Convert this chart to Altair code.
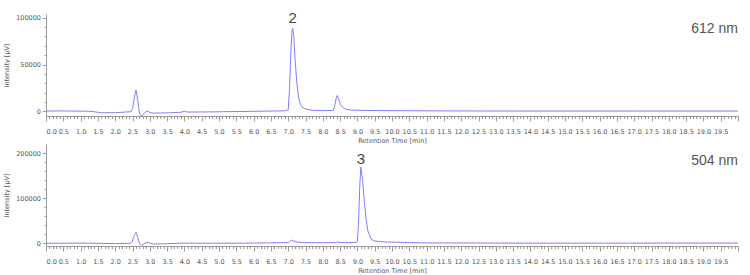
import altair as alt
import pandas as pd

# ---- 612 nm trace (top) ----
top_t = [0.0, 0.5, 1.0, 1.3, 1.6, 2.0, 2.3, 2.45, 2.5, 2.55, 2.6, 2.65, 2.7, 2.75, 2.8,
         2.85, 2.9, 2.95, 3.0, 3.1, 3.3, 3.6, 3.9, 4.0, 4.1, 4.5, 5.0, 6.0, 6.5, 6.9,
         7.0, 7.04, 7.08, 7.11, 7.13, 7.16, 7.2, 7.25, 7.3, 7.35, 7.4, 7.5, 7.7, 8.0,
         8.3, 8.34, 8.38, 8.42, 8.46, 8.5, 8.55, 8.65, 8.8, 9.2, 10.0, 11.0, 12.0, 13.5,
         15.0, 17.0, 20.0]
top_v = [300, 400, 200, 0, -1500, -1500, -700, -500, 3000, 14000, 23000, 12000, -2000, -5000, -4000,
         -1500, 0, 200, -1200, -2000, -1800, -1500, -1000, 0, -800, -700, -500, 0, 300, 500,
         1500, 25000, 65000, 86000, 89000, 80000, 55000, 30000, 15000, 8000, 4500, 2500, 1000, 700,
         900, 4500, 13000, 17000, 12500, 8000, 5000, 2500, 1300, 900, 700, 500, 400, 300,
         300, 300, 300]

# ---- 504 nm trace (bottom) ----
bot_t = [0.0, 1.0, 1.5, 2.0, 2.45, 2.5, 2.55, 2.6, 2.65, 2.7, 2.75, 2.8, 2.9, 2.95, 3.0,
         3.1, 3.5, 4.0, 4.5, 6.0, 7.0, 7.05, 7.1, 7.15, 7.25, 7.4, 8.0, 8.35, 8.42, 8.5,
         8.9, 9.0, 9.03, 9.07, 9.1, 9.15, 9.2, 9.25, 9.3, 9.4, 9.5, 9.8, 10.5, 11.0, 13.0,
         15.0, 18.0, 20.0]
bot_v = [0, 500, 0, -800, 0, 5000, 17000, 24000, 14000, 0, -4000, -3500, 2000, 2500, 0,
         -1500, -1000, 500, 0, 500, 1500, 4500, 7000, 5500, 3000, 1500, 1200, 1500, 3000, 1800,
         1500, 3000, 40000, 130000, 169000, 140000, 93000, 55000, 28000, 9000, 5000, 3000, 1500, 800, 500,
         400, 500, 500]

# ---- labels ----
peak_labels = ["2", "3"]
peak_times = [7.13, 9.10]
peak_label_y = [100000, 187000]
wavelengths = ["612 nm", "504 nm"]
wl_label_y = [88000, 183000]

x_ticks = [round(i * 0.1, 1) for i in range(201)]
top_yticks = [i * 10000 for i in range(11)]
bot_yticks = [i * 20000 for i in range(11)]

LINE = "#7f7fff"
AX = "#9a9a9a"
TXT = "#555555"
FONT = "DejaVu Sans"


def panel(t, v, ydom, yticks, ymajor, plabel, ptime, py, wl, wy, height):
    df = pd.DataFrame({"t": t, "v": v})
    x_axis = alt.Axis(
        title="Retention Time [min]",
        values=x_ticks,
        labelExpr="(round(datum.value*10) % 5 == 0 && datum.value < 19.95) ? format(datum.value, '.1f') : ''",
        tickSize={"condition": {"test": "round(datum.value*10) % 5 == 0", "value": 5}, "value": 2.5},
        labelPadding=7,
        labelFlush=True,
        labelOverlap=False,
        labelFont=FONT, labelFontSize=6.5, labelColor=TXT,
        titleFont=FONT, titleFontSize=6.5, titleColor=TXT, titleFontWeight="normal",
        titlePadding=3,
        domainColor=AX, tickColor=AX, grid=False,
    )
    y_axis = alt.Axis(
        title="Intensity [µV]",
        values=yticks,
        labelExpr=f"datum.value % {ymajor} == 0 ? format(datum.value, 'd') : ''",
        tickSize={"condition": {"test": f"datum.value % {ymajor} == 0", "value": 3.5}, "value": 2},
        labelPadding=2,
        labelOverlap=False,
        labelFont=FONT, labelFontSize=6.5, labelColor=TXT,
        titleFont=FONT, titleFontSize=6.5, titleColor=TXT, titleFontWeight="normal",
        titlePadding=6,
        domainColor=AX, tickColor=AX, grid=False,
    )
    xs = alt.Scale(domain=[0, 20], nice=False, zero=False)
    ys = alt.Scale(domain=ydom, nice=False, zero=False)
    X = alt.X("t:Q", scale=xs, axis=x_axis)
    Y = alt.Y("v:Q", scale=ys, axis=y_axis)
    line = alt.Chart(df).mark_line(color=LINE, strokeWidth=1).encode(x=X, y=Y)
    pk = alt.Chart(pd.DataFrame({"t": [ptime], "v": [py], "lab": [plabel]})).mark_text(
        font="Liberation Sans", fontSize=15, color="#444444", baseline="middle", align="center"
    ).encode(x=X, y=Y, text="lab:N")
    wlc = alt.Chart(pd.DataFrame({"t": [20.0], "v": [wy], "lab": [wl]})).mark_text(
        font="Liberation Sans", fontSize=14, color="#555555", baseline="middle", align="right"
    ).encode(x=X, y=Y, text="lab:N")
    return alt.layer(line, pk, wlc).properties(width=692, height=height)


top = panel(top_t, top_v, [-5000, 104000], top_yticks, 50000,
            peak_labels[0], peak_times[0], peak_label_y[0], wavelengths[0], wl_label_y[0], 102)
bot = panel(bot_t, bot_v, [-6000, 220000], bot_yticks, 100000,
            peak_labels[1], peak_times[1], peak_label_y[1], wavelengths[1], wl_label_y[1], 102)

chart = alt.vconcat(top, bot, spacing=0).properties(
    padding={"left": 3, "top": 10, "right": 5, "bottom": 0},
    background="white",
).configure_view(stroke=None)

chart.save("out.html", embed_options={"renderer": "svg", "actions": False})
